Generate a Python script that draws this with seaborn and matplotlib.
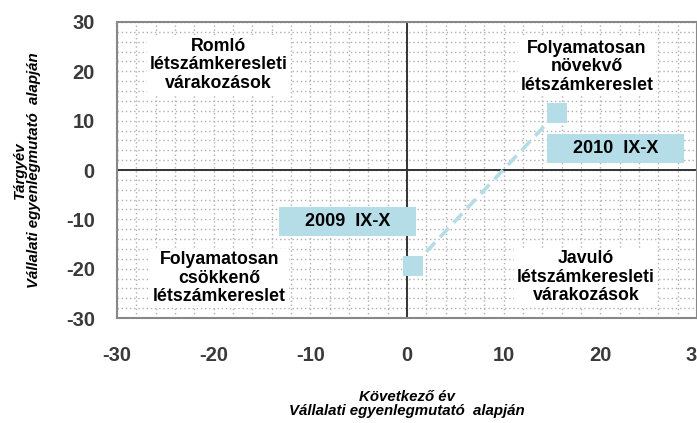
import matplotlib
matplotlib.use("Agg")
import matplotlib.pyplot as plt
from matplotlib.ticker import MultipleLocator
import seaborn as sns
import pandas as pd

# Balance indicators: x = next year, y = current year
periods = ["2009  IX-X", "2010  IX-X"]
next_year = [0.6, 15.5]
current_year = [-19.5, 11.6]

ticks = [-30, -20, -10, 0, 10, 20, 30]

quadrant_texts = [
    "Romló\nlétszámkeresleti\nvárakozások",
    "Folyamatosan\nnövekvő\nlétszámkereslet",
    "Folyamatosan\ncsökkenő\nlétszámkereslet",
    "Javuló\nlétszámkeresleti\nvárakozások",
]
quadrant_x = [-19.5, 18.6, -19.4, 18.5]
quadrant_y = [21.3, 20.9, -21.9, -21.7]

df = pd.DataFrame({"period": periods, "x": next_year, "y": current_year})

sns.set_theme(style="white")
plt.rcParams["font.family"] = ["Liberation Sans", "DejaVu Sans"]
plt.rcParams["axes.unicode_minus"] = False

point_color = "#b5dde7"
tick_color = "#3a3a3a"

fig = plt.figure(figsize=(6.97, 4.23), dpi=100)
ax = fig.add_axes([117 / 697, 105 / 423, 580 / 697, 296 / 423])

# grid every 2 units, dotted
ax.xaxis.set_minor_locator(MultipleLocator(2))
ax.yaxis.set_minor_locator(MultipleLocator(2))
ax.grid(which="both", linestyle=(0, (1, 2)), color="#b0b0b0", linewidth=1.0)
ax.set_axisbelow(True)

# quadrant dividing lines
ax.axhline(0, color="#333333", linewidth=1.4, zorder=2)
ax.axvline(0, color="#333333", linewidth=1.4, zorder=2)

sns.lineplot(data=df, x="x", y="y", ax=ax, color=point_color, linewidth=2.6,
             linestyle=(0, (3.5, 2.0)), sort=False, zorder=3)
sns.scatterplot(data=df, x="x", y="y", ax=ax, marker="s", s=200,
                color=point_color, linewidth=0, zorder=4)

# period labels
offsets = [(-65, 45), (59, -36)]
for lab, px, py, off in zip(periods, next_year, current_year, offsets):
    ax.annotate("    " + lab + "    ", xy=(px, py), xytext=off,
                textcoords="offset pixels", ha="center", va="center",
                fontsize=13, fontweight="bold", color="black", zorder=5,
                bbox=dict(boxstyle="square,pad=0.33", facecolor=point_color,
                          edgecolor="none"))

# quadrant descriptions
for txt, qx, qy in zip(quadrant_texts, quadrant_x, quadrant_y):
    ax.text(qx, qy, txt, ha="center", va="center", multialignment="center",
            fontsize=12.8, fontweight="bold", color="black", linespacing=1.1,
            zorder=5,
            bbox=dict(boxstyle="square,pad=0.15", facecolor="white",
                      edgecolor="none"))

ax.set_xlim(-30, 30)
ax.set_ylim(-30, 30)
ax.set_xticks(ticks)
ax.set_yticks(ticks)
ax.tick_params(axis="x", which="both", length=0, pad=20, labelsize=14.5,
               labelcolor=tick_color)
ax.tick_params(axis="y", which="both", length=0, pad=16, labelsize=14.5,
               labelcolor=tick_color)
for lbl in ax.get_xticklabels() + ax.get_yticklabels():
    lbl.set_fontweight("bold")

for sp in ax.spines.values():
    sp.set_visible(True)
    sp.set_color("#888888")
    sp.set_linewidth(1.5)

ax.set_xlabel("Következő év\nVállalati egyenlegmutató  alapján", fontsize=10.8,
              fontweight="bold", fontstyle="italic", color="black",
              linespacing=1.0, va="center")
ax.xaxis.set_label_coords(0.5, -0.29)
ax.set_ylabel("Tárgyév\nVállalati egyenlegmutató  alapján", fontsize=10.8,
              fontweight="bold", fontstyle="italic", color="black",
              linespacing=1.0, va="center")
ax.yaxis.set_label_coords(-0.155, 0.5)

fig.savefig("out.png", dpi=100)
